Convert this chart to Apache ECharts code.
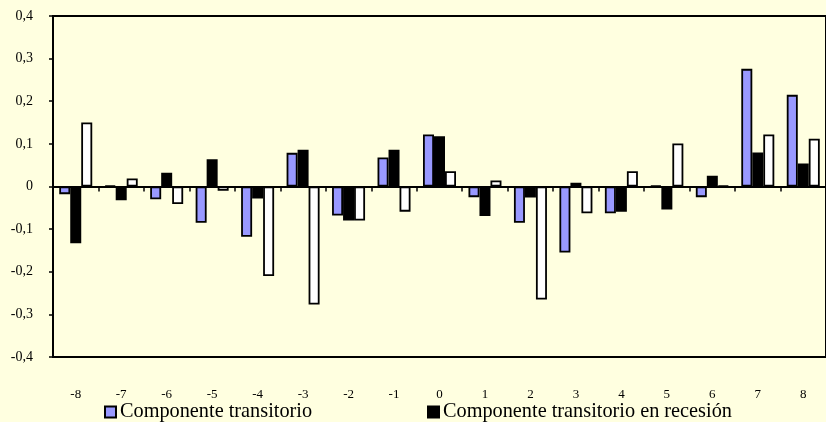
<!DOCTYPE html>
<html>
<head>
<meta charset="utf-8">
<script src="https://cdn.jsdelivr.net/npm/echarts@6/dist/echarts.min.js"></script>
<style>
  html, body { margin: 0; padding: 0; background: #FFFFE0; }
  #chart { width: 826px; height: 422px; }
</style>
</head>
<body>
<div id="chart"></div>
<script>
const categories = ['-8', '-7', '-6', '-5', '-4', '-3', '-2', '-1', '0', '1', '2', '3', '4', '5', '6', '7', '8']

const transitorio = [-0.018, 0.002, -0.030, -0.085, -0.118, 0.079, -0.068, 0.068, 0.122, -0.025, -0.085, -0.155, -0.063, 0.002, -0.025, 0.276, 0.215]
const transitorioRecesion = [-0.133, -0.032, 0.032, 0.064, -0.028, 0.086, -0.080, 0.086, 0.118, -0.069, -0.026, 0.009, -0.059, -0.054, 0.025, 0.080, 0.054]
const tercerComponente = [0.150, 0.019, -0.041, -0.010, -0.210, -0.277, -0.080, -0.059, 0.036, 0.014, -0.265, -0.063, 0.036, 0.101, 0.002, 0.122, 0.112]

const yTicks = { min: -0.4, max: 0.4, interval: 0.1 }

const serif = "'Liberation Serif', 'Times New Roman', serif"

const chart = echarts.init(document.getElementById('chart'))

// formato con coma decimal, como el original
const fmt = (v) => {
  if (Math.abs(v) < 1e-9) return '0'
  return v.toFixed(1).replace('.', ',')
}

const barStyle = (color) => ({
  color: color,
  borderColor: '#000',
  borderWidth: 1.8
})

const legendText = { fontFamily: serif, fontSize: 20.3, color: '#000', padding: [0, 0, 0, -1] }

const option = {
  animation: false,
  backgroundColor: '#FFFFE0',
  grid: {
    left: 53,
    top: 16,
    bottom: 65,
    right: -14,
    show: true,
    borderColor: '#000',
    borderWidth: 2,
    backgroundColor: 'transparent'
  },
  legend: [
    {
      data: ['Componente transitorio'],
      left: 99,
      top: 397,
      icon: 'rect',
      itemWidth: 11,
      itemHeight: 11,
      textStyle: legendText
    },
    {
      data: ['Componente transitorio en recesión'],
      left: 422,
      top: 397,
      icon: 'rect',
      itemWidth: 11,
      itemHeight: 11,
      textStyle: legendText
    }
  ],
  xAxis: [
    {
      type: 'category',
      data: categories,
      position: 'bottom',
      axisLine: { onZero: true, lineStyle: { color: '#000', width: 2 } },
      axisTick: { show: true, length: 5, lineStyle: { color: '#000', width: 1.5 } },
      axisLabel: { show: false }
    },
    {
      type: 'category',
      data: categories,
      position: 'bottom',
      axisLine: { show: false, onZero: false },
      axisTick: { show: false },
      axisLabel: { fontFamily: serif, fontSize: 13, color: '#000', margin: 31 }
    }
  ],
  yAxis: {
    type: 'value',
    min: yTicks.min,
    max: yTicks.max,
    interval: yTicks.interval,
    axisLine: { show: true, lineStyle: { color: '#000', width: 2 } },
    axisTick: { show: true, length: 4, lineStyle: { color: '#000', width: 1.5 } },
    splitLine: { show: false },
    axisLabel: { fontFamily: serif, fontSize: 14, color: '#000', margin: 20, formatter: fmt }
  },
  series: [
    {
      name: 'Componente transitorio',
      type: 'bar',
      xAxisIndex: 0,
      barWidth: 11,
      barGap: '0%',
      itemStyle: barStyle('#9999FF'),
      data: transitorio
    },
    {
      name: 'Componente transitorio en recesión',
      type: 'bar',
      xAxisIndex: 0,
      barWidth: 11,
      barGap: '0%',
      itemStyle: barStyle('#000000'),
      data: transitorioRecesion
    },
    {
      name: 'Componente permanente',
      type: 'bar',
      xAxisIndex: 0,
      barWidth: 11,
      barGap: '0%',
      itemStyle: barStyle('#FFFFFF'),
      data: tercerComponente
    }
  ]
}

chart.setOption(option)
</script>
</body>
</html>
